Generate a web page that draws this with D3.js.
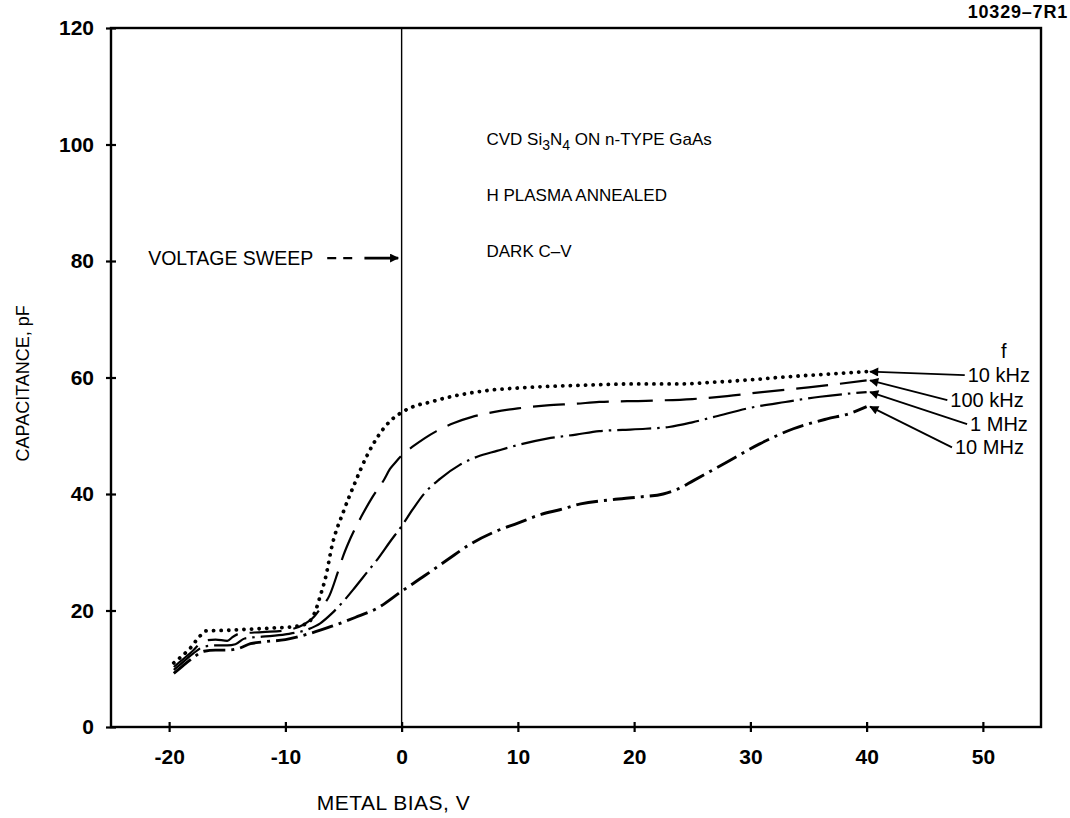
<!DOCTYPE html>
<html>
<head>
<meta charset="utf-8">
<script src="https://cdn.jsdelivr.net/npm/d3@7"></script>
<style>
  body { margin: 0; background: #fff; }
  text { font-family: "Liberation Sans", Arial, sans-serif; fill: #000; }
</style>
</head>
<body>
<div class="chart"></div>
<script>
// sweep data (bias in V, capacitance in pF)
var v10k = [-19.6, -19, -18.2, -17.4, -16.8, -15, -13, -11, -9, -8, -7.4, -7, -6.5, -6, -5, -4, -3, -2, -1, 0, 1, 2.5, 4, 5.5, 7.5, 10, 13, 16, 20, 24, 27, 30, 33, 36, 40],
  c10k = [11, 12, 13.5, 15.5, 16.5, 16.6, 16.8, 17, 17.3, 18, 20, 22.5, 26, 31, 37, 42, 46.5, 50, 52.5, 54, 55, 55.8, 56.6, 57.2, 57.8, 58.2, 58.5, 58.7, 58.9, 58.9, 59.2, 59.6, 60.1, 60.5, 61];

var v100k = [-19.6, -19, -18, -17, -16, -15, -14.5, -14, -12, -10, -8.5, -7.5, -7, -6.2, -5.5, -5, -4.4, -3.5, -2.5, -1.5, -1, -0.5, 0, 1, 2, 3, 4.5, 6, 8, 10, 12.5, 15, 17, 21, 25, 28, 31, 35, 40],
  c100k = [10.3, 11.3, 13, 14.8, 15, 14.8, 15.5, 16, 16.3, 16.6, 17.5, 19, 20.3, 22.6, 26.5, 29.5, 32.4, 36, 39.5, 42.5, 44.3, 45.5, 46.6, 48.2, 49.6, 50.8, 52.2, 53.2, 54.1, 54.7, 55.2, 55.5, 55.8, 56, 56.3, 56.8, 57.5, 58.3, 59.5];

var v1M = [-19.6, -19, -18, -17, -16, -15, -14.3, -13.5, -12, -10, -8, -7, -6, -5, -4, -3, -2, -1, 0, 1, 2, 3.3, 5, 6.5, 8.2, 10, 12.5, 15, 17, 19, 21, 23, 25, 27, 30, 33, 36, 40],
  c1M = [9.8, 10.8, 12.5, 13.8, 14, 14, 14.2, 15.2, 15.5, 15.9, 16.8, 17.8, 19.5, 21.6, 24, 26.5, 29, 31.8, 34.5, 37.5, 40.2, 42.6, 45, 46.4, 47.4, 48.4, 49.5, 50.2, 50.8, 51, 51.2, 51.5, 52.3, 53.3, 54.8, 55.8, 56.7, 57.5];

var v10M = [-19.6, -19, -18, -17, -16, -15, -14, -13, -12, -10, -8, -6, -4, -2, 0, 2, 4, 6, 8, 10, 12, 13.6, 15.4, 18, 20.5, 22.5, 23.7, 25.1, 28, 30.8, 33.7, 36.6, 38.5, 40],
  c10M = [9.2, 10.2, 11.8, 13, 13.2, 13.2, 13.5, 14.3, 14.6, 15, 16, 17.3, 18.8, 20.5, 23.3, 26, 28.8, 31.5, 33.5, 35, 36.5, 37.3, 38.3, 39, 39.5, 40, 40.8, 42.3, 45.5, 48.6, 51.2, 52.9, 53.8, 55];

var xTicks = [-20, -10, 0, 10, 20, 30, 40, 50],
  yTicks = [0, 20, 40, 60, 80, 100, 120];

// legend: frequency labels, the level of each text line and where it starts
var freqLabels = ['10 kHz', '100 kHz', '1 MHz', '10 MHz'],
  labelLevels = [60.4, 56.1, 52, 48],
  labelBias = [48.7, 47.2, 48.9, 47.6];

var noteLines = ['H PLASMA ANNEALED', 'DARK C\u2013V'];

var w = 1070,
  h = 818;

var x = d3.scaleLinear().domain([-25, 55]).range([111, 1041]);
var y = d3.scaleLinear().domain([0, 120]).range([727, 28]);

var svg = d3.select('.chart')
  .append('svg')
  .attr('width', w)
  .attr('height', h);

// arrow head for the legend / sweep arrows
svg.append('defs').append('marker')
  .attr('id', 'head')
  .attr('viewBox', '0 0 10 10')
  .attr('refX', 9)
  .attr('refY', 5)
  .attr('markerWidth', 13)
  .attr('markerHeight', 9)
  .attr('markerUnits', 'userSpaceOnUse')
  .attr('orient', 'auto')
  .append('path')
  .attr('d', 'M0,0L10,5L0,10z')
  .attr('fill', '#000');

// frame
svg.append('rect')
  .attr('x', x(-25))
  .attr('y', y(120))
  .attr('width', x(55) - x(-25))
  .attr('height', y(0) - y(120))
  .attr('fill', 'none')
  .attr('stroke', '#000')
  .attr('stroke-width', 2.4);

// zero-bias line
svg.append('line')
  .attr('x1', x(0)).attr('x2', x(0))
  .attr('y1', y(120)).attr('y2', y(0))
  .attr('stroke', '#000')
  .attr('stroke-width', 1.4);

// axes (ticks cross the frame line)
var yAxis = d3.axisLeft(y).tickValues(yTicks).tickSize(5).tickPadding(12);
var gy = svg.append('g').attr('transform', 'translate(' + x(-25) + ',0)').call(yAxis);
var xAxis = d3.axisBottom(x).tickValues(xTicks).tickSize(5).tickPadding(17)
  .tickFormat(function (d) { return d; });
var gx = svg.append('g').attr('transform', 'translate(0,' + y(0) + ')').call(xAxis);

[gy, gx].forEach(function (g) {
  g.select('.domain').remove();
  g.selectAll('.tick line').attr('stroke', '#000').attr('stroke-width', 2.2);
  g.selectAll('.tick text')
    .attr('font-size', 21)
    .attr('font-weight', 'bold')
    .attr('font-family', '"Liberation Sans", Arial, sans-serif');
});
gy.selectAll('.tick line').attr('x1', 5);
gx.selectAll('.tick line').attr('y1', -5);

// axis titles
svg.append('text')
  .attr('x', x(-0.7))
  .attr('y', 810)
  .attr('text-anchor', 'middle')
  .attr('font-size', 21)
  .attr('letter-spacing', 0.5)
  .text('METAL BIAS, V');

svg.append('text')
  .attr('transform', 'translate(29,' + y(59) + ') rotate(-90)')
  .attr('text-anchor', 'middle')
  .attr('font-size', 18)
  .text('CAPACITANCE, pF');

svg.append('text')
  .attr('x', 1068)
  .attr('y', 18)
  .attr('text-anchor', 'end')
  .attr('font-size', 18)
  .attr('font-weight', 'bold')
  .attr('letter-spacing', 0.8)
  .text('10329\u20137R1');

// curves
var line = d3.line()
  .x(function (d) { return x(d[0]); })
  .y(function (d) { return y(d[1]); })
  .curve(d3.curveMonotoneX);

var series = [
  { v: v10k, c: c10k, dash: '0.1 7.5', width: 3.8, cap: 'round' },
  { v: v100k, c: c100k, dash: '32 12', width: 2.2, cap: 'butt' },
  { v: v1M, c: c1M, dash: '34 6 2.5 6', width: 2.2, cap: 'butt' },
  { v: v10M, c: c10M, dash: '22 6 3 6', width: 2.9, cap: 'butt' }
];

svg.selectAll('path.curve')
  .data(series)
  .enter()
  .append('path')
  .attr('class', 'curve')
  .attr('d', function (s) { return line(d3.zip(s.v, s.c)); })
  .attr('fill', 'none')
  .attr('stroke', '#000')
  .attr('stroke-width', function (s) { return s.width; })
  .attr('stroke-dasharray', function (s) { return s.dash; })
  .attr('stroke-linecap', function (s) { return s.cap; });

// legend
var ends = series.map(function (s) { return [s.v[s.v.length - 1], s.c[s.c.length - 1]]; });

svg.append('text')
  .attr('x', x(51.8))
  .attr('y', y(64.6) + 7)
  .attr('text-anchor', 'middle')
  .attr('font-size', 20)
  .text('f');

freqLabels.forEach(function (lab, i) {
  svg.append('text')
    .attr('x', x(labelBias[i]))
    .attr('y', y(labelLevels[i]) + 7)
    .attr('font-size', 20)
    .text(lab);
  svg.append('line')
    .attr('x1', x(labelBias[i]) - 3)
    .attr('y1', y(labelLevels[i]))
    .attr('x2', x(ends[i][0] + 0.3))
    .attr('y2', y(ends[i][1]))
    .attr('stroke', '#000')
    .attr('stroke-width', 1.8)
    .attr('marker-end', 'url(#head)');
});

// sample notes
var note = svg.append('text')
  .attr('x', x(7.3))
  .attr('y', y(101) + 6)
  .attr('font-size', 17);
note.append('tspan').text('CVD Si');
note.append('tspan').attr('dy', 5).attr('font-size', 14).text('3');
note.append('tspan').attr('dy', -5).text('N');
note.append('tspan').attr('dy', 5).attr('font-size', 14).text('4');
note.append('tspan').attr('dy', -5).text(' ON n-TYPE GaAs');

svg.selectAll('text.note')
  .data(noteLines)
  .enter()
  .append('text')
  .attr('class', 'note')
  .attr('x', x(7.3))
  .attr('y', function (d, i) { return y(91.3 - i * 9.5) + 6; })
  .attr('font-size', 17)
  .text(function (d) { return d; });

// voltage sweep arrow
svg.append('text')
  .attr('x', x(-21.8))
  .attr('y', y(80.5) + 7)
  .attr('font-size', 19.5)
  .text('VOLTAGE SWEEP');
svg.append('line')
  .attr('x1', x(-6.4)).attr('x2', x(-3.8))
  .attr('y1', y(80.5)).attr('y2', y(80.5))
  .attr('stroke', '#000').attr('stroke-width', 2.2)
  .attr('stroke-dasharray', '9 7');
svg.append('line')
  .attr('x1', x(-3.2)).attr('x2', x(-0.3))
  .attr('y1', y(80.5)).attr('y2', y(80.5))
  .attr('stroke', '#000').attr('stroke-width', 2.8)
  .attr('marker-end', 'url(#head)');
</script>
</body>
</html>
